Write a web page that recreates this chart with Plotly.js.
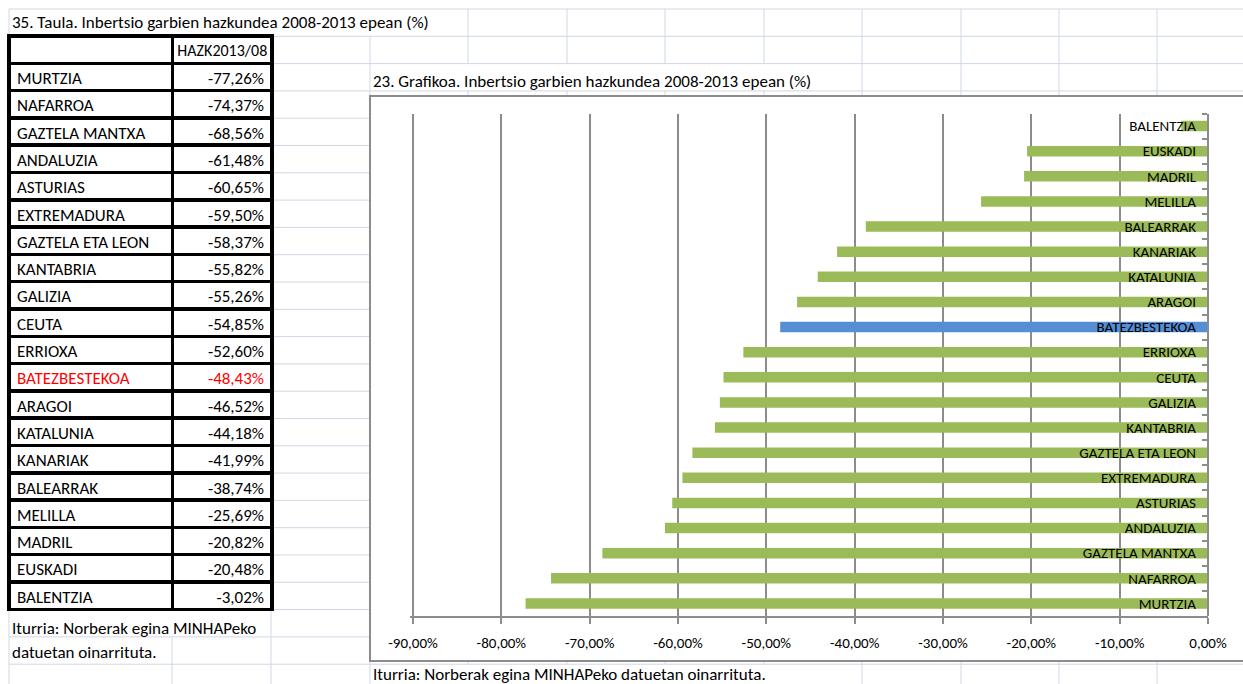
<!DOCTYPE html>
<html>
<head>
<meta charset="utf-8">
<script src="https://cdn.plot.ly/plotly-3.0.1.min.js"></script>
<style>html,body{margin:0;padding:0;background:#fff;}#chart{width:1243px;height:684px;}</style>
</head>
<body>
<div id="chart"></div>
<script>
// ---- data ----
const regions = ["MURTZIA","NAFARROA","GAZTELA MANTXA","ANDALUZIA","ASTURIAS","EXTREMADURA","GAZTELA ETA LEON","KANTABRIA","GALIZIA","CEUTA","ERRIOXA","BATEZBESTEKOA","ARAGOI","KATALUNIA","KANARIAK","BALEARRAK","MELILLA","MADRIL","EUSKADI","BALENTZIA"];
const growth = [-77.26,-74.37,-68.56,-61.48,-60.65,-59.50,-58.37,-55.82,-55.26,-54.85,-52.60,-48.43,-46.52,-44.18,-41.99,-38.74,-25.69,-20.82,-20.48,-3.02];
const averageName = "BATEZBESTEKOA";
const tableHeader = ["", "HAZK2013/08"];
const xTickVals = [-90,-80,-70,-60,-50,-40,-30,-20,-10,0];
const tableTitle = "35. Taula. Inbertsio garbien hazkundea 2008-2013 epean (%)";
const chartTitle = "23. Grafikoa. Inbertsio garbien hazkundea 2008-2013 epean (%)";
const sourceLine1 = "Iturria: Norberak egina MINHAPeko";
const sourceLine2 = "datuetan oinarrituta.";
const sourceFull = "Iturria: Norberak egina MINHAPeko datuetan oinarrituta.";

// ---- geometry helpers (page pixels -> paper fractions) ----
const W = 1243, H = 684;
const px = x => x / W;
const py = y => 1 - y / H;
const FONT = "Carlito, Lato, sans-serif";
const GRID = "#d0d7e5";
const AXIS = "#8c8c8c";

const rowY = k => 9 + 27.3 * k;
const colX = [9, 172, 271, 370, 468, 567, 665, 764, 862, 961, 1059, 1157];
const hidden = {0: [172, 271, 370], 2: [468, 567, 665, 764], 22: [172], 24: [468, 567, 665, 764]};

const shapes = [];
for (let k = 0; k <= 25; k++) {
  shapes.push({type: "line", xref: "paper", yref: "paper", layer: "below",
    x0: px(9), x1: px(1250), y0: py(rowY(k)), y1: py(rowY(k)), line: {color: GRID, width: 1}});
}
colX.forEach(x => {
  let start = null;
  for (let r = 0; r <= 25; r++) {
    const hide = r === 25 || (hidden[r] && hidden[r].indexOf(x) >= 0);
    if (!hide && start === null) start = r;
    if (hide && start !== null) {
      shapes.push({type: "line", xref: "paper", yref: "paper", layer: "below",
        x0: px(x), x1: px(x), y0: py(rowY(start)), y1: py(Math.min(rowY(r), H + 5)), line: {color: GRID, width: 1}});
      start = null;
    }
  }
});
shapes.push({type: "rect", xref: "paper", yref: "paper", layer: "below",
  x0: px(370), x1: px(1260), y0: py(661), y1: py(96), fillcolor: "#ffffff", line: {color: AXIS, width: 2}});

const fmt = v => v.toFixed(2).replace(".", ",") + "%";
const textColors = regions.map(r => r === averageName ? "#ff0000" : "#000000");

const table = {
  type: "table",
  domain: {x: [px(9), px(272)], y: [py(611), py(36)]},
  columnwidth: [163, 99],
  header: {
    values: tableHeader.map(h => [h]),
    align: ["left", "center"],
    height: 27.3,
    line: {color: "#000000", width: 3.5},
    fill: {color: "#ffffff"},
    font: {family: FONT, size: 16, color: "#000000"}
  },
  cells: {
    values: [regions, growth.map(fmt)],
    align: ["left", "right"],
    height: 27.3,
    line: {color: "#000000", width: 3.5},
    fill: {color: "#ffffff"},
    font: {family: FONT, size: 17, color: [textColors, textColors]}
  }
};

const bars = {
  type: "bar",
  orientation: "h",
  x: growth,
  y: regions,
  width: 0.42,
  marker: {color: regions.map(r => r === averageName ? "#558ed5" : "#9bbb59")},
  hoverinfo: "x+y"
};

const ann = (text, x, y) => ({text: text, x: px(x), y: py(y), xref: "paper", yref: "paper",
  xanchor: "left", yanchor: "middle", showarrow: false, font: {family: FONT, size: 17, color: "#000000"}});

const pxPerUnit = (1208 - 413) / 90;
const xMin = -90.3;

const layout = {
  width: W, height: H,
  margin: {l: 0, r: 0, t: 0, b: 0},
  paper_bgcolor: "#ffffff",
  plot_bgcolor: "rgba(0,0,0,0)",
  showlegend: false,
  xaxis: {
    domain: [px(1208 + xMin * pxPerUnit), px(1208)],
    range: [xMin, 0],
    tickmode: "array",
    tickvals: xTickVals,
    ticktext: xTickVals.map(fmt),
    showgrid: true, gridcolor: AXIS, gridwidth: 2,
    zeroline: false,
    showline: true, linecolor: AXIS, linewidth: 2,
    ticks: "outside", ticklen: 6, tickwidth: 2, tickcolor: AXIS,
    ticklabelstandoff: 6,
    tickfont: {family: FONT, size: 15, color: "#000000"},
    fixedrange: true
  },
  yaxis: {
    domain: [py(616), py(113.5)],
    type: "category",
    side: "left",
    anchor: "free",
    position: px(1208),
    showline: true, linecolor: AXIS, linewidth: 2,
    showgrid: false, zeroline: false,
    ticks: "outside", ticklen: 5, tickwidth: 2, tickcolor: AXIS,
    tickson: "boundaries",
    ticklabelstandoff: 8,
    tickfont: {family: FONT, size: 15, color: "#000000"},
    fixedrange: true
  },
  shapes: shapes,
  annotations: [
    ann(tableTitle, 10, 22),
    ann(chartTitle, 371, 81),
    ann(sourceLine1, 10, 628),
    ann(sourceLine2, 10, 652),
    ann(sourceFull, 371, 674)
  ]
};

Plotly.newPlot("chart", [table, bars], layout, {displayModeBar: false, staticPlot: true});
</script>
</body>
</html>
